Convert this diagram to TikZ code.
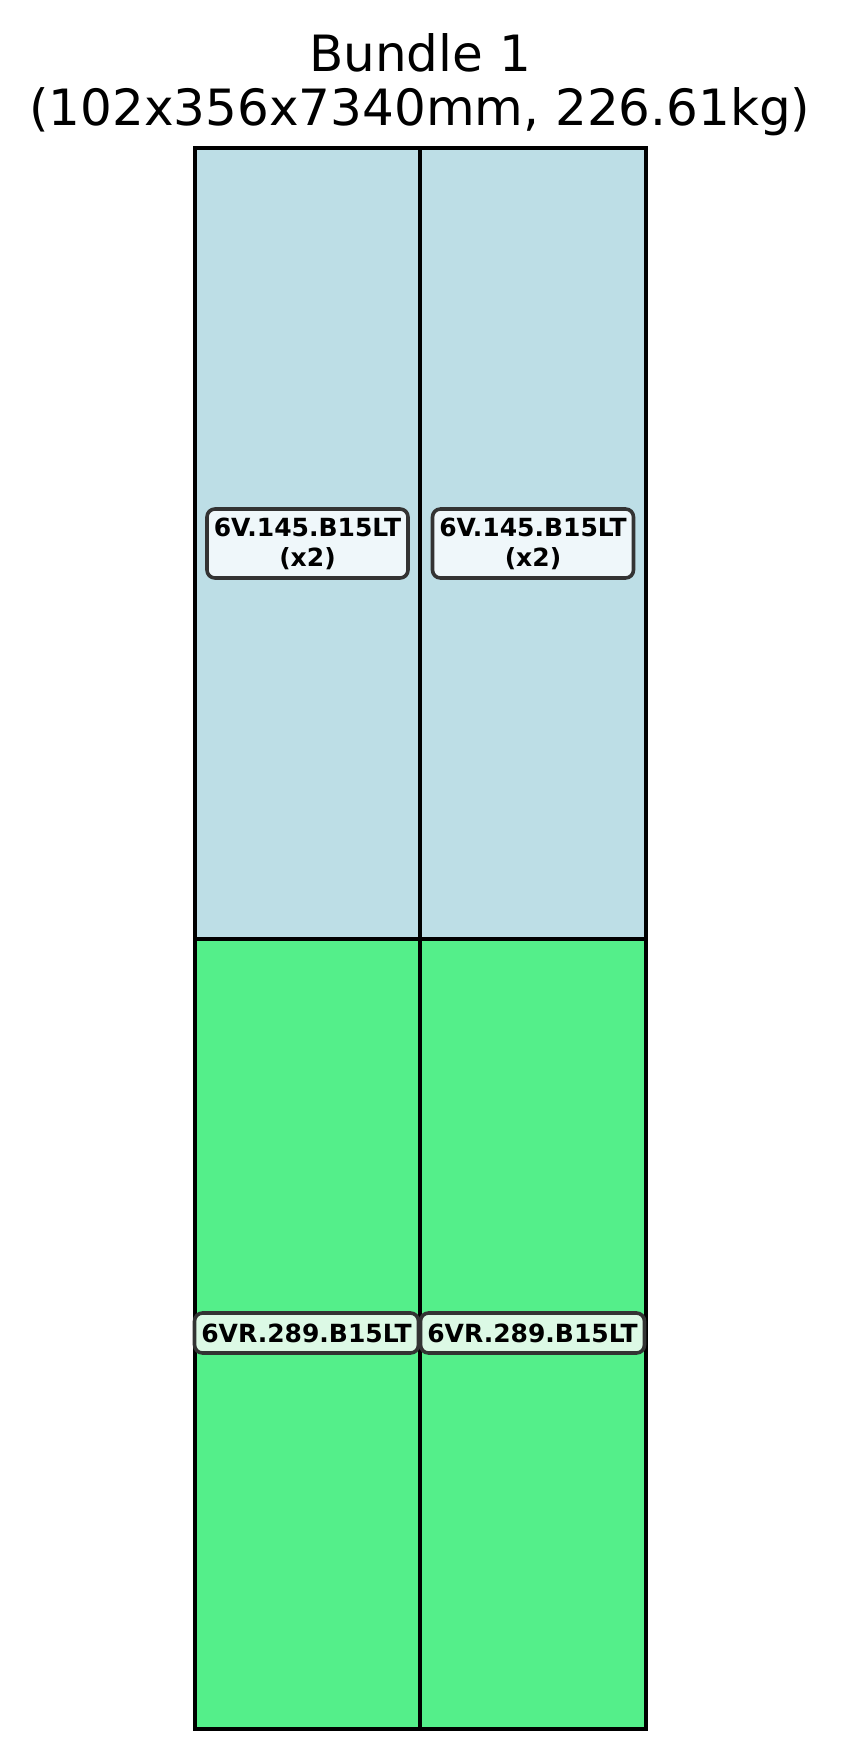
\documentclass[tikz,border=0pt]{standalone}
\usepackage{fontspec}
\setmainfont{DejaVu Sans}
\usepackage{tikz}
\usetikzlibrary{positioning}
\definecolor{bundleink}{HTML}{000000}
\definecolor{bundleblue}{HTML}{BDDEE6}
\definecolor{bundlegreen}{HTML}{54EF8A}
\definecolor{tagblue}{HTML}{EFF7FA}
\definecolor{taggreen}{HTML}{DCF9E5}
\definecolor{tagedge}{HTML}{333333}
\tikzset{
  parttag/.style={draw=tagedge, line width=1.8pt, rounded corners=4pt, align=center,
    font=\fontsize{12.5}{15}\selectfont\bfseries, inner xsep=3.4pt, inner ysep=0pt},
  cellbox/.style={draw=bundleink, line width=1.8pt}
}

\begin{document}
\begin{tikzpicture}[x=0.5pt, y=-0.5pt]
        \useasboundingbox (0,0) rectangle (840,1759);
        \node[font=\fontsize{25}{27}\selectfont, align=center] (title) at (420,84.6) {Bundle 1\\(102x356x7340mm, 226.61kg)};
        \draw[cellbox, fill=bundleblue] (195,148) rectangle (420,939);
        \draw[cellbox, fill=bundleblue] (420,148) rectangle (646,939);
        \draw[cellbox, fill=bundlegreen] (195,939) rectangle (420,1729);
        \draw[cellbox, fill=bundlegreen] (420,939) rectangle (646,1729);
        \node[parttag, fill=tagblue, minimum height=34.5pt] (tagtl) at (307.5,543.5) {6V.145.B15LT\\(x2)};
        \node[parttag, fill=tagblue, minimum height=34.5pt] (tagtr) at (533,543.5) {6V.145.B15LT\\(x2)};
        \node[parttag, fill=taggreen, minimum height=20pt] (tagbl) at (306.5,1333) {6VR.289.B15LT};
        \node[parttag, fill=taggreen, minimum height=20pt] (tagbr) at (532.5,1333) {6VR.289.B15LT};
      \end{tikzpicture}
\end{document}
